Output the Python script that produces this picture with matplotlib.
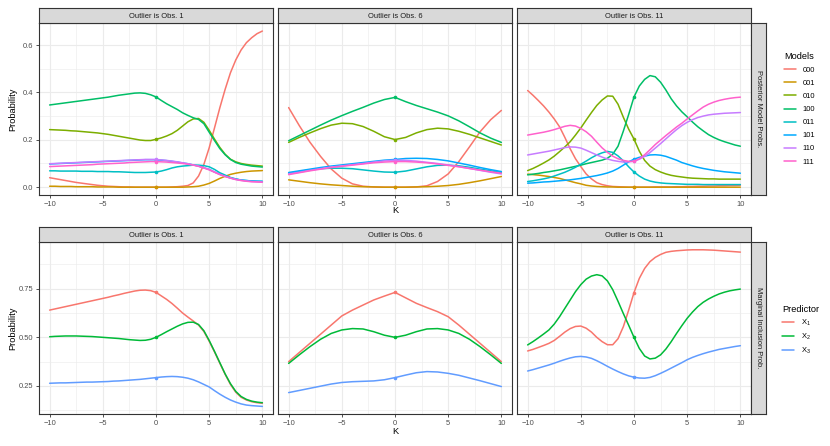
import matplotlib
matplotlib.use('Agg')
import matplotlib.pyplot as plt

plt.rcParams['font.family'] = ['Liberation Sans', 'DejaVu Sans']
plt.rcParams['mathtext.fontset'] = 'custom'
plt.rcParams['mathtext.rm'] = 'Liberation Sans'
plt.rcParams['mathtext.it'] = 'Liberation Sans'

# --- data ---
K = list(range(-10, 11))                      # unit grid (obs 6)
K_HALF = [k / 2 for k in range(-20, 21)]      # half-unit grid (obs 1, obs 11: steeper curves)

MODELS = ['000', '001', '010', '100', '011', '101', '110', '111']
MODEL_COLORS = ['#F8766D', '#CD9600', '#7CAE00', '#00BE67',
                '#00BFC4', '#00A9FF', '#C77CFF', '#FF61CC']
PRED_LABELS = ['X$_1$', 'X$_2$', 'X$_3$']
PRED_COLORS = ['#F8766D', '#00BA38', '#619CFF']
OUTLIERS = ['Outlier is Obs. 1', 'Outlier is Obs. 6', 'Outlier is Obs. 11']

# posterior model probs, outlier obs 1 (half-unit grid)
obs1_000 = [.040, .036, .032, .028, .024, .020, .017, .014, .011, .008,
            .006, .004, .003, .002, .001, .001, 0, 0, 0, 0,
            0, 0, 0, .001, .002, .004, .007, .018, .047, .096,
            .166, .25, .335, .413, .483, .537, .579, .61, .631, .648, .659]
obs1_001 = [.004, .004, .003, .003, .003, .002, .002, .002, .002, .001,
            .001, .001, .001, 0, 0, 0, 0, 0, 0, 0,
            0, 0, 0, 0, 0, 0, .001, .002, .004, .009,
            .016, .026, .037, .046, .054, .059, .063, .066, .068, .069, .07]
obs1_010 = [.243, .242, .241, .240, .238, .237, .235, .233, .231, .229,
            .226, .223, .219, .215, .211, .207, .203, .199, .197, .197,
            .202, .208, .216, .226, .24, .258, .276, .288, .29, .274,
            .24, .203, .168, .139, .118, .107, .1, .096, .093, .091, .089]
obs1_100 = [.347, .35, .353, .356, .359, .362, .365, .368, .371, .374,
            .377, .38, .384, .388, .391, .394, .397, .398, .396, .39,
            .381, .366, .352, .34, .328, .314, .303, .293, .286, .268,
            .232, .197, .163, .137, .117, .104, .097, .093, .089, .087, .085]
obs1_011 = [.069, .069, .068, .068, .068, .068, .067, .067, .067, .066,
            .066, .066, .065, .065, .064, .063, .062, .062, .062, .063,
            .064, .068, .074, .081, .086, .089, .091, .093, .093, .091,
            .086, .075, .061, .051, .041, .035, .03, .028, .026, .025, .025]
obs1_101 = [.098, .099, .100, .101, .102, .103, .104, .105, .106, .107,
            .108, .109, .110, .111, .112, .113, .114, .115, .116, .116,
            .116, .114, .112, .109, .106, .102, .099, .094, .089, .082,
            .075, .064, .055, .046, .039, .034, .030, .028, .026, .025, .024]
obs1_110 = [.099, .100, .101, .102, .103, .104, .105, .106, .107, .108,
            .109, .110, .111, .112, .113, .114, .115, .116, .117, .117,
            .117, .115, .113, .110, .107, .103, .099, .094, .089, .082,
            .075, .064, .054, .046, .039, .033, .029, .026, .024, .023, .022]
obs1_111 = [.087, .088, .089, .090, .091, .092, .093, .094, .095, .097,
            .098, .099, .100, .101, .102, .104, .105, .106, .107, .108,
            .108, .107, .106, .104, .102, .100, .097, .093, .088, .081,
            .073, .063, .053, .045, .038, .032, .028, .025, .023, .022, .021]

# posterior model probs, outlier obs 6 (unit grid)
obs6_000 = [.336, .26, .19, .13, .077, .038, .014, .004, .001, 0, 0, 0, .001, .006, .024, .056, .108, .17, .234, .285, .324]
obs6_001 = [.031, .025, .019, .014, .010, .007, .004, .002, .001, 0, 0, 0, .001, .002, .004, .007, .012, .019, .027, .036, .045]
obs6_010 = [.189, .21, .229, .247, .262, .27, .268, .256, .236, .213, .201, .21, .229, .243, .249, .246, .236, .223, .208, .193, .178]
obs6_100 = [.196, .218, .24, .262, .283, .302, .32, .337, .355, .37, .379, .361, .345, .331, .317, .301, .28, .255, .229, .207, .189]
obs6_011 = [.059, .066, .073, .078, .080, .080, .078, .073, .068, .064, .063, .068, .077, .086, .092, .093, .090, .084, .076, .069, .062]
obs6_101 = [.062, .069, .076, .083, .089, .094, .099, .104, .109, .114, .117, .121, .122, .121, .117, .111, .102, .093, .083, .074, .066]
obs6_110 = [.056, .063, .071, .078, .085, .090, .095, .100, .106, .111, .114, .113, .110, .105, .100, .094, .087, .079, .071, .063, .056]
obs6_111 = [.053, .061, .069, .076, .083, .088, .093, .098, .103, .106, .108, .108, .106, .103, .098, .092, .086, .079, .072, .065, .059]

# posterior model probs, outlier obs 11 (half-unit grid)
obs11_000 = [.408, .388, .366, .343, .317, .288, .255, .21, .162, .12, .087, .056, .035, .019, .011, .006, .003, .002, .001, 0,
             0, 0, 0, 0, .001, .001, .001, .001, .002, .002, .003, .003, .004, .004, .005, .005, .006, .006, .007, .007, .008]
obs11_001 = [.055, .053, .051, .048, .045, .041, .037, .031, .025, .019, .014, .008, .005, .003, .002, .001, .001, 0, 0, 0,
             0, 0, 0, 0, 0, 0, 0, 0, 0, 0, 0, 0, 0, 0, 0, 0, 0, 0, 0, 0, 0]
obs11_010 = [.07, .079, .09, .102, .115, .131, .15, .17, .192, .22, .25, .283, .315, .345, .368, .385, .384, .35, .295, .245,
             .203, .152, .113, .089, .074, .064, .056, .05, .046, .043, .04, .038, .037, .036, .035, .035, .034, .034, .034, .034, .034]
obs11_100 = [.052, .055, .058, .062, .065, .069, .073, .078, .083, .088, .093, .099, .104, .109, .114, .122, .139, .173, .237, .307,
             .381, .427, .455, .471, .466, .443, .41, .373, .343, .318, .297, .275, .255, .238, .222, .21, .2, .192, .185, .178, .173]
obs11_011 = [.024, .027, .031, .035, .040, .047, .055, .063, .073, .084, .097, .11, .124, .136, .145, .151, .147, .132, .111, .086,
             .064, .047, .034, .026, .021, .018, .016, .015, .014, .013, .012, .012, .012, .011, .011, .011, .011, .011, .011, .011, .011]
obs11_101 = [.017, .018, .020, .022, .023, .025, .027, .029, .031, .034, .037, .041, .045, .049, .054, .060, .068, .079, .093, .107,
             .118, .126, .131, .136, .137, .135, .130, .122, .114, .104, .097, .090, .084, .079, .075, .071, .068, .065, .063, .061, .059]
obs11_110 = [.136, .140, .144, .148, .152, .157, .162, .167, .170, .169, .165, .156, .146, .136, .127, .119, .113, .109, .106, .107,
             .110, .118, .130, .146, .165, .184, .204, .224, .243, .26, .274, .285, .294, .300, .305, .308, .31, .312, .313, .314, .315]
obs11_111 = [.22, .224, .228, .232, .237, .243, .25, .257, .261, .258, .248, .234, .215, .19, .166, .147, .131, .12, .113, .109,
             .109, .12, .137, .158, .18, .199, .218, .236, .254, .27, .288, .305, .322, .338, .35, .359, .366, .371, .375, .378, .38]

# marginal inclusion probs
obs1_x1 = [.64, .646, .652, .658, .664, .670, .676, .682, .688, .694,
           .70, .706, .713, .719, .726, .732, .738, .742, .743, .74,
           .731, .713, .695, .674, .650, .625, .604, .584, .563, .53,
           .48, .425, .367, .31, .258, .218, .192, .178, .169, .164, .161]
obs1_x2 = [.503, .505, .506, .507, .507, .507, .506, .505, .504, .502,
           .50, .498, .496, .494, .491, .488, .486, .484, .485, .49,
           .50, .514, .529, .543, .557, .569, .577, .578, .566, .534,
           .484, .428, .37, .312, .262, .222, .196, .181, .172, .167, .164]
obs1_x3 = [.264, .265, .266, .266, .267, .268, .269, .270, .270, .271,
           .272, .273, .275, .276, .278, .280, .282, .284, .287, .290,
           .293, .296, .298, .299, .298, .295, .290, .282, .271, .258,
           .245, .226, .208, .192, .178, .167, .158, .152, .149, .147, .145]

obs6_x1 = [.375, .422, .469, .516, .563, .61, .64, .666, .692, .712, .731, .703, .675, .653, .632, .606, .563, .516, .469, .422, .375]
obs6_x2 = [.366, .41, .452, .49, .52, .538, .545, .543, .529, .511, .50, .511, .529, .543, .545, .538, .52, .49, .452, .41, .366]
obs6_x3 = [.216, .227, .238, .249, .26, .268, .272, .274, .276, .282, .293, .306, .318, .324, .322, .315, .305, .291, .277, .262, .247]

obs11_x1 = [.43, .438, .448, .458, .469, .484, .505, .527, .545, .556, .558, .547, .527, .500, .478, .462, .462, .493, .555, .64,
            .73, .803, .854, .889, .911, .926, .937, .942, .945, .947, .949, .95, .95, .95, .949, .948, .946, .944, .942, .94, .938]
obs11_x2 = [.461, .478, .497, .517, .538, .568, .606, .649, .692, .735, .771, .799, .815, .822, .816, .79, .745, .685, .622, .562,
            .50, .443, .404, .389, .393, .41, .44, .478, .52, .56, .598, .63, .658, .68, .697, .711, .723, .732, .739, .744, .748]
obs11_x3 = [.327, .334, .342, .35, .358, .367, .377, .386, .394, .4, .402, .399, .392, .38, .366, .351, .337, .324, .312, .302,
            .295, .291, .29, .294, .303, .315, .328, .342, .356, .37, .385, .397, .407, .416, .424, .431, .438, .443, .448, .453, .457]

k_panels = [K_HALF, K, K_HALF]
model_panels = [
    [obs1_000, obs1_001, obs1_010, obs1_100, obs1_011, obs1_101, obs1_110, obs1_111],
    [obs6_000, obs6_001, obs6_010, obs6_100, obs6_011, obs6_101, obs6_110, obs6_111],
    [obs11_000, obs11_001, obs11_010, obs11_100, obs11_011, obs11_101, obs11_110, obs11_111],
]
pred_panels = [
    [obs1_x1, obs1_x2, obs1_x3],
    [obs6_x1, obs6_x2, obs6_x3],
    [obs11_x1, obs11_x2, obs11_x3],
]

# --- layout (pixels -> figure fractions) ---
W, H = 830, 446
DARK = '#333333'
GRID = '#EBEBEB'
TICK_TXT = '#4D4D4D'
SMALL = 5.4
TITLE = 6.7

def fx(px): return px / W
def fy(py): return 1 - py / H

panel_x = [(39, 273), (278, 512), (517, 751)]
rows = [
    dict(top=23, bot=195, ylim=(-0.033, 0.693), yticks=[0.0, 0.2, 0.4, 0.6],
         ylabels=['0.0', '0.2', '0.4', '0.6'], yminor=[0.1, 0.3, 0.5],
         strip_r='Posterior Model Probs.', klabel_y=211,
         data=model_panels, names=MODELS, colors=MODEL_COLORS),
    dict(top=242, bot=414, ylim=(0.106, 0.990), yticks=[0.25, 0.50, 0.75],
         ylabels=['0.25', '0.50', '0.75'], yminor=[0.125, 0.375, 0.625, 0.875],
         strip_r='Marginal Inclusion Prob.', klabel_y=431,
         data=pred_panels, names=PRED_LABELS, colors=PRED_COLORS),
]

fig = plt.figure(figsize=(8.3, 4.46), dpi=100)
fig.patch.set_facecolor('white')

row_handles = []
for r, row in enumerate(rows):
    handles = None
    for c, (x0, x1) in enumerate(panel_x):
        kk = k_panels[c]
        z = kk.index(0)
        ax = fig.add_axes([fx(x0), fy(row['bot']), fx(x1 - x0), (row['bot'] - row['top']) / H])
        ax.set_xlim(-11, 11)
        ax.set_ylim(*row['ylim'])
        ax.set_xticks([-10, -5, 0, 5, 10])
        ax.set_xticklabels(['\u221210', '\u22125', '0', '5', '10'])
        ax.set_xticks([-7.5, -2.5, 2.5, 7.5], minor=True)
        ax.set_yticks(row['yticks'])
        ax.set_yticks(row['yminor'], minor=True)
        ax.grid(which='major', color=GRID, lw=0.8)
        ax.grid(which='minor', color=GRID, lw=0.4)
        ax.set_axisbelow(True)
        for s in ax.spines.values():
            s.set_color(DARK)
            s.set_linewidth(0.8)
        ax.tick_params(which='major', length=2.5, width=0.6, color=DARK,
                       labelsize=SMALL, labelcolor=TICK_TXT, pad=1.5)
        ax.tick_params(which='minor', length=0)
        if c == 0:
            ax.set_yticklabels(row['ylabels'])
        else:
            ax.tick_params(axis='y', which='major', length=0, labelleft=False)

        hs = []
        for vals, col, name in zip(row['data'][c], row['colors'], row['names']):
            ln, = ax.plot(kk, vals, color=col, lw=1.1, label=name,
                          solid_capstyle='round', solid_joinstyle='round')
            ax.plot(kk[z], vals[z], 'o', color=col, ms=2.6, mew=0)
            hs.append(ln)
        handles = hs

        # top strip
        sax = fig.add_axes([fx(x0), fy(row['top']), fx(x1 - x0), 15 / H])
        sax.set_facecolor('#D9D9D9')
        sax.set_xticks([]); sax.set_yticks([])
        for s in sax.spines.values():
            s.set_color(DARK); s.set_linewidth(0.8)
        sax.text(0.5, 0.45, OUTLIERS[c], ha='center', va='center', fontsize=SMALL, color='#1A1A1A',
                 transform=sax.transAxes)

    # right strip
    rax = fig.add_axes([fx(751), fy(row['bot']), fx(15), (row['bot'] - row['top']) / H])
    rax.set_facecolor('#D9D9D9')
    rax.set_xticks([]); rax.set_yticks([])
    for s in rax.spines.values():
        s.set_color(DARK); s.set_linewidth(0.8)
    rax.text(0.5, 0.5, row['strip_r'], ha='center', va='center', rotation=-90, fontsize=SMALL,
             color='#1A1A1A', transform=rax.transAxes)

    # axis titles
    fig.text(fx(395), fy(row['klabel_y']), 'K', ha='center', va='center', fontsize=TITLE)
    fig.text(fx(13), fy((row['top'] + row['bot']) / 2), 'Probability', ha='center', va='center',
             rotation=90, fontsize=TITLE)
    row_handles.append(handles)

# legends
fig.legend(row_handles[0], MODELS, title='Models', loc='upper left',
           bbox_to_anchor=(fx(777), fy(45)), frameon=False, fontsize=SMALL,
           title_fontsize=TITLE, handlelength=1.6, handletextpad=0.9,
           labelspacing=0.78, alignment='left')
fig.legend(row_handles[1], PRED_LABELS, title='Predictor', loc='upper left',
           bbox_to_anchor=(fx(775), fy(298)), frameon=False, fontsize=SMALL,
           title_fontsize=TITLE, handlelength=1.6, handletextpad=0.9,
           labelspacing=0.5, alignment='left')

fig.savefig('out.png', dpi=100, facecolor='white')
